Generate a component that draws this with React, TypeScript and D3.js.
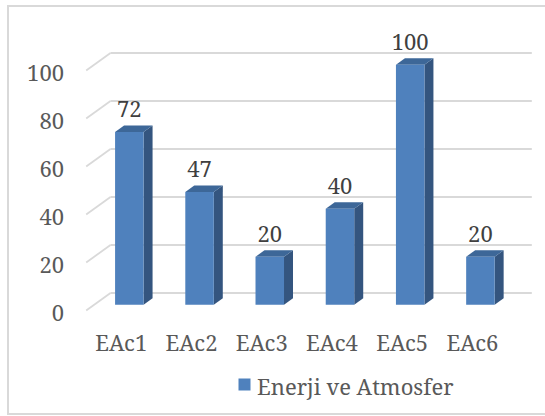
import React from "react";
import * as d3 from "d3";

// Chart data
const categories = ["EAc1", "EAc2", "EAc3", "EAc4", "EAc5", "EAc6"];
const values = [72, 47, 20, 40, 100, 20];
const yTicks = [0, 20, 40, 60, 80, 100];
const seriesName = "Enerji ve Atmosfer";

const W = 545;
const H = 416;

// 3D layout: the back wall sits DX to the right and DY above the front floor edge
const DX = 24.3;
const DY = 17.5;
const wallLeft = 110.5;
const wallRight = 531.8;
const BAR_F0 = 0.33; // depth fraction of bar front face
const BAR_F1 = 0.7; // depth fraction of bar back face

const FONT = "Noto Serif";
const FS = 22;
const front = "#4F81BD";
const side = "#34557F";
const top = "#3D6798";
const grid = "#D9D9D9";

export default function App() {
  const yBack = d3.scaleLinear().domain([0, 100]).range([293, 53]);
  const x = d3
    .scaleBand<string>()
    .domain(categories)
    .range([wallLeft - DX, wallRight - DX])
    .paddingInner(0)
    .paddingOuter(0);

  // project a point at front-floor x, value v and depth fraction f (0 = front, 1 = back wall)
  const P = (xf: number, v: number, f: number): [number, number] => [
    xf + f * DX,
    yBack(v) + (1 - f) * DY,
  ];
  const pts = (arr: [number, number][]) => arr.map((p) => p.join(",")).join(" ");

  const bw = 28.5;
  const textStyle = { fontFamily: FONT, fontSize: FS };

  return (
    <svg width={W} height={H} style={{ position: "absolute", left: 0, top: 0, display: "block" }}>
      <rect x={0} y={0} width={W} height={H} fill="#fff" />
      <rect x={8} y={6} width={W + 10} height={408} fill="none" stroke={grid} strokeWidth={2} />

      {/* back wall gridlines and left wall diagonals */}
      {yTicks.map((t) => {
        const [bx, by] = P(wallLeft - DX, t, 1);
        const [fx, fy] = P(wallLeft - DX, t, 0);
        return (
          <g key={t}>
            <line x1={bx} y1={by} x2={wallRight} y2={by} stroke={grid} strokeWidth={1.8} />
            <line x1={bx} y1={by} x2={fx} y2={fy} stroke={grid} strokeWidth={1.8} />
            <text
              x={64}
              y={fy + 1.5}
              textAnchor="end"
              dominantBaseline="central"
              style={textStyle}
              fill="#595959"
            >
              {t}
            </text>
          </g>
        );
      })}

      {/* bars */}
      {categories.map((c, i) => {
        const v = values[i];
        const cx = (x(c) as number) + x.bandwidth() / 2;
        const xl = cx - bw / 2;
        const xr = cx + bw / 2;
        const fTL = P(xl, v, BAR_F0);
        const fTR = P(xr, v, BAR_F0);
        const fBR = P(xr, 0, BAR_F0);
        const fBL = P(xl, 0, BAR_F0);
        const bTL = P(xl, v, BAR_F1);
        const bTR = P(xr, v, BAR_F1);
        const bBR = P(xr, 0, BAR_F1);
        return (
          <g key={c}>
            <polygon points={pts([fTR, bTR, bBR, fBR])} fill={side} />
            <polygon points={pts([fTL, bTL, bTR, fTR])} fill={top} />
            <polygon points={pts([fTL, fTR, fBR, fBL])} fill={front} />
            <text
              x={(fTL[0] + fTR[0]) / 2}
              y={fTL[1] - 24}
              textAnchor="middle"
              dominantBaseline="central"
              style={textStyle}
              fill="#404040"
            >
              {v}
            </text>
          </g>
        );
      })}

      {/* category labels */}
      {categories.map((c) => (
        <text
          key={c}
          x={(x(c) as number) + x.bandwidth() / 2}
          y={342}
          textAnchor="middle"
          dominantBaseline="central"
          style={textStyle}
          fill="#595959"
        >
          {c}
        </text>
      ))}

      {/* legend */}
      <rect x={238.5} y={378.5} width={12} height={12} fill={front} />
      <text x={257} y={386} dominantBaseline="central" style={textStyle} fill="#595959">
        {seriesName}
      </text>
    </svg>
  );
}
